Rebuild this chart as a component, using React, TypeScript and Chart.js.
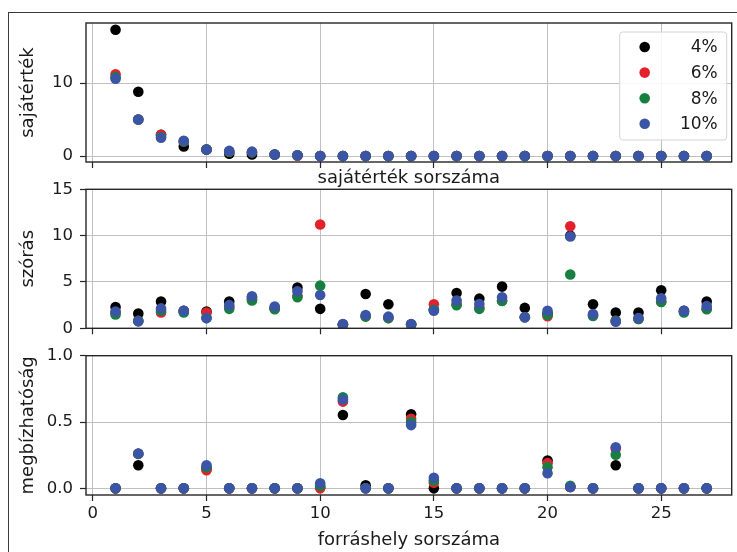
import React, { useEffect, useRef } from "react";
import { Chart, registerables } from "chart.js";
Chart.register(...registerables);

// ---- data ----
const sourceIdx = [1, 2, 3, 4, 5, 6, 7, 8, 9, 10, 11, 12, 13, 14, 15, 16, 17, 18, 19, 20, 21, 22, 23, 24, 25, 26, 27];
const seriesLabels = ["4%", "6%", "8%", "10%"];
const seriesColors = ["#000000", "#e3212b", "#17803f", "#3b55a6"];

// sajátérték (eigenvalues)
const eig4 = [17.3, 8.8, 2.9, 1.3, 0.9, 0.3, 0.2, 0.2, 0.1, 0, 0, 0, 0, 0, 0, 0, 0, 0, 0, 0, 0, 0, 0, 0, 0, 0, 0];
const eig6 = [11.2, 5.0, 2.9, 2.0, 0.9, 0.6, 0.5, 0.2, 0.05, 0, 0, 0, 0, 0, 0, 0, 0, 0, 0, 0, 0, 0, 0, 0, 0, 0, 0];
const eig8 = [10.8, 5.0, 2.6, 2.0, 0.9, 0.6, 0.5, 0.2, 0.1, 0, 0, 0, 0, 0, 0, 0, 0, 0, 0, 0, 0, 0, 0, 0, 0, 0, 0];
const eig10 = [10.6, 5.0, 2.5, 2.1, 0.9, 0.7, 0.6, 0.2, 0.1, 0, 0, 0, 0, 0, 0, 0, 0, 0, 0, 0, 0, 0, 0, 0, 0, 0, 0];

// szórás (std)
const std4 = [2.3, 1.6, 2.9, 1.9, 1.8, 2.9, 3.3, 2.2, 4.4, 2.1, 0.4, 3.7, 2.6, 0.4, 2.0, 3.8, 3.2, 4.5, 2.2, 1.6, 10.0, 2.6, 1.7, 1.7, 4.1, 1.9, 2.9];
const std6 = [1.7, 0.8, 1.7, 1.8, 1.7, 2.3, 3.1, 2.1, 3.5, 11.2, 0.4, 1.3, 1.1, 0.4, 2.6, 2.6, 2.2, 3.0, 1.2, 1.3, 11.0, 1.4, 0.8, 1.0, 2.9, 1.8, 2.1];
const std8 = [1.5, 0.8, 1.9, 1.7, 1.1, 2.1, 3.0, 2.05, 3.35, 4.6, 0.4, 1.26, 1.1, 0.4, 2.0, 2.5, 2.1, 2.95, 1.2, 1.47, 5.8, 1.33, 0.8, 1.0, 2.84, 1.7, 2.05];
const std10 = [1.8, 0.75, 2.15, 1.9, 1.1, 2.5, 3.45, 2.35, 4.0, 3.6, 0.45, 1.44, 1.26, 0.47, 1.9, 3.0, 2.63, 3.35, 1.2, 1.9, 9.9, 1.55, 0.72, 1.1, 3.24, 1.9, 2.4];

// megbízhatóság (reliability)
const rel4 = [0, 0.174, 0, 0, 0.15, 0, 0, 0, 0, 0.01, 0.553, 0.023, 0, 0.558, 0, 0, 0, 0, 0, 0.21, 0.01, 0, 0.174, 0, 0, 0, 0];
const rel6 = [0, 0.26, 0, 0, 0.136, 0, 0, 0, 0, 0, 0.654, 0, 0, 0.525, 0.043, 0, 0, 0, 0, 0.19, 0.01, 0, 0.3, 0, 0, 0, 0];
const rel8 = [0, 0.26, 0, 0, 0.16, 0, 0, 0, 0, 0.02, 0.687, 0, 0, 0.5, 0.06, 0, 0, 0, 0, 0.16, 0.02, 0, 0.253, 0, 0, 0, 0];
const rel10 = [0, 0.263, 0, 0, 0.174, 0, 0, 0, 0, 0.038, 0.67, 0, 0, 0.477, 0.08, 0, 0, 0, 0, 0.114, 0.01, 0, 0.31, 0, 0, 0, 0];

const xTickLabels = ["0", "5", "10", "15", "20", "25"];

const FONT = "DejaVu Sans";
const TEXT = "#1a1a1a";
const GRID = "#c0c0c0";
const SPINE = "#262626";

function makeDatasets(arrs: number[][]) {
  return arrs.map((a, i) => ({
    label: seriesLabels[i],
    data: sourceIdx.map((x, j) => ({ x, y: a[j] })),
    backgroundColor: seriesColors[i],
    borderColor: seriesColors[i],
    pointRadius: 5.3,
    pointHoverRadius: 5.3,
    pointBorderWidth: 0,
    showLine: false,
    order: 4 - i,
  }));
}

const spinesPlugin = {
  id: "spines",
  afterDatasetsDraw(chart: any) {
    const { ctx, chartArea: a } = chart;
    ctx.save();
    ctx.strokeStyle = SPINE;
    ctx.lineWidth = 1.4;
    ctx.strokeRect(a.left, a.top, a.right - a.left, a.bottom - a.top);
    ctx.restore();
  },
};

const legendPlugin = {
  id: "boxLegend",
  afterDraw(chart: any) {
    const { ctx, chartArea: a } = chart;
    const right = a.right - 5;
    const left = right - 107;
    const top = a.top + 9;
    const h = 108;
    ctx.save();
    ctx.beginPath();
    const r = 3;
    ctx.moveTo(left + r, top);
    ctx.lineTo(right - r, top);
    ctx.quadraticCurveTo(right, top, right, top + r);
    ctx.lineTo(right, top + h - r);
    ctx.quadraticCurveTo(right, top + h, right - r, top + h);
    ctx.lineTo(left + r, top + h);
    ctx.quadraticCurveTo(left, top + h, left, top + h - r);
    ctx.lineTo(left, top + r);
    ctx.quadraticCurveTo(left, top, left + r, top);
    ctx.closePath();
    ctx.fillStyle = "rgba(255,255,255,0.85)";
    ctx.fill();
    ctx.strokeStyle = "#d4d4d4";
    ctx.lineWidth = 1;
    ctx.stroke();
    ctx.font = `17px "${FONT}"`;
    ctx.textAlign = "right";
    ctx.textBaseline = "middle";
    seriesLabels.forEach((lab, i) => {
      const y = top + 15 + i * 25.6;
      ctx.beginPath();
      ctx.arc(left + 25, y, 5.3, 0, Math.PI * 2);
      ctx.fillStyle = seriesColors[i];
      ctx.fill();
      ctx.fillStyle = TEXT;
      ctx.fillText(lab, right - 9, y + 1);
    });
    ctx.restore();
  },
};

type PanelOpts = {
  datasets: any[];
  yMin: number;
  yMax: number;
  yStep: number;
  yFmt: (v: number) => string;
  yTitle: string;
  xTitle?: string;
  showXTicks: boolean;
  padTop: number;
  xAxisHeight: number;
  legend?: boolean;
};

function buildChart(canvas: HTMLCanvasElement, o: PanelOpts) {
  const tickFont = { family: FONT, size: 16.5 };
  const titleFont = { family: FONT, size: 18 };
  return new Chart(canvas, {
    type: "scatter",
    data: { datasets: o.datasets },
    plugins: o.legend ? [spinesPlugin, legendPlugin] : [spinesPlugin],
    options: {
      animation: false,
      responsive: false,
      events: [],
      layout: { padding: { top: o.padTop, left: 0, right: 2, bottom: 0 } },
      plugins: { legend: { display: false }, tooltip: { enabled: false }, title: { display: false } },
      scales: {
        x: {
          type: "linear",
          min: -0.3,
          max: 28.1,
          border: { display: false },
          grid: { color: GRID, lineWidth: 1, tickColor: SPINE, tickLength: 6, tickWidth: 1.2 },
          ticks: {
            display: o.showXTicks,
            stepSize: 5,
            includeBounds: false,
            padding: 3,
            color: TEXT,
            font: tickFont,
            maxRotation: 0,
            callback: (v: any) => xTickLabels[Math.round(Number(v) / 5)] ?? "",
          },
          title: {
            display: !!o.xTitle,
            text: o.xTitle || "",
            color: TEXT,
            font: titleFont,
            padding: { top: 0, bottom: 1.2 },
          },
          afterFit: (s: any) => {
            s.height = o.xAxisHeight;
            s.paddingLeft = 0;
            s.paddingRight = 0;
            s.paddingTop = 0;
            s.paddingBottom = 0;
          },
        },
        y: {
          type: "linear",
          min: o.yMin,
          max: o.yMax,
          border: { display: false },
          grid: { color: GRID, lineWidth: 1, tickColor: SPINE, tickLength: 6, tickWidth: 1.2 },
          ticks: {
            stepSize: o.yStep,
            includeBounds: false,
            padding: 7,
            color: TEXT,
            font: tickFont,
            callback: (v: any) => o.yFmt(Number(v)),
          },
          title: {
            display: true,
            text: o.yTitle,
            color: TEXT,
            font: titleFont,
            padding: { top: 17.2, bottom: 0 },
          },
          afterFit: (s: any) => {
            s.width = 86;
            s.paddingLeft = 0;
            s.paddingRight = 0;
            s.paddingTop = 0;
            s.paddingBottom = 0;
          },
        },
      },
    } as any,
  });
}

export default function App() {
  const c1 = useRef<HTMLCanvasElement>(null);
  const c2 = useRef<HTMLCanvasElement>(null);
  const c3 = useRef<HTMLCanvasElement>(null);

  useEffect(() => {
    const charts: Chart[] = [];
    charts.push(
      buildChart(c1.current!, {
        datasets: makeDatasets([eig4, eig6, eig8, eig10]),
        yMin: -0.82,
        yMax: 18.22,
        yStep: 10,
        yFmt: (v) => String(Math.round(v)),
        yTitle: "sajátérték",
        xTitle: "sajátérték sorszáma",
        showXTicks: false,
        padTop: 23,
        xAxisHeight: 28,
        legend: true,
      })
    );
    charts.push(
      buildChart(c2.current!, {
        datasets: makeDatasets([std4, std6, std8, std10]),
        yMin: 0,
        yMax: 15,
        yStep: 5,
        yFmt: (v) => String(Math.round(v)),
        yTitle: "szórás",
        showXTicks: false,
        padTop: 9.3,
        xAxisHeight: 16.7,
      })
    );
    charts.push(
      buildChart(c3.current!, {
        datasets: makeDatasets([rel4, rel6, rel8, rel10]),
        yMin: -0.05,
        yMax: 1.0,
        yStep: 0.5,
        yFmt: (v) => v.toFixed(1),
        yTitle: "megbízhatóság",
        xTitle: "forráshely sorszáma",
        showXTicks: true,
        padTop: 10.7,
        xAxisHeight: 57,
      })
    );
    return () => charts.forEach((c) => c.destroy());
  }, []);

  const abs = (top: number, h: number): React.CSSProperties => ({
    position: "absolute",
    left: 0,
    top,
    width: 737,
    height: h,
    display: "block",
  });

  return (
    <div style={{ position: "absolute", left: 0, top: 0, width: 737, height: 552, background: "#fff", overflow: "hidden" }}>
      <div
        style={{
          position: "absolute",
          left: 8,
          top: 12,
          width: 740,
          height: 560,
          borderTop: "1.3px solid #3a3a3a",
          borderLeft: "1.3px solid #3a3a3a",
        }}
      />
      <canvas ref={c1} width={737} height={190} style={abs(0, 190)} />
      <canvas ref={c2} width={737} height={165} style={abs(180, 165)} />
      <canvas ref={c3} width={737} height={207} style={abs(345, 207)} />
    </div>
  );
}
